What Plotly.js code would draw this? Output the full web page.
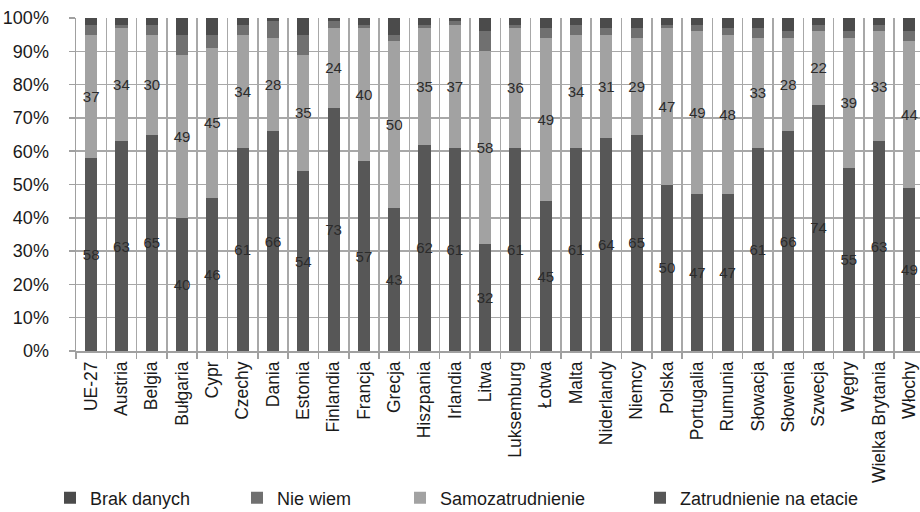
<!DOCTYPE html>
<html>
<head>
<meta charset="utf-8">
<script src="https://cdn.plot.ly/plotly-3.0.1.min.js"></script>
<style>html,body{margin:0;padding:0;background:#fff;}#chart{width:920px;height:512px;}</style>
</head>
<body>
<div id="chart"></div>
<script>
var categories = ["UE-27","Austria","Belgia","Bułgaria","Cypr","Czechy","Dania","Estonia","Finlandia","Francja","Grecja","Hiszpania","Irlandia","Litwa","Luksemburg","Łotwa","Malta","Niderlandy","Niemcy","Polska","Portugalia","Rumunia","Słowacja","Słowenia","Szwecja","Węgry","Wielka Brytania","Włochy"];
var zatrudnienie = [58,63,65,40,46,61,66,54,73,57,43,62,61,32,61,45,61,64,65,50,47,47,61,66,74,55,63,49];
var samozatrudnienie = [37,34,30,49,45,34,28,35,24,40,50,35,37,58,36,49,34,31,29,47,49,48,33,28,22,39,33,44];
var nieWiem = [3,1,3,6,4,3,5,6,2,1,2,1,1,6,1,3,3,2,3,1,2,2,3,2,2,2,2,3];
var brakDanych = [2,2,2,5,5,2,1,5,1,2,5,2,1,4,2,3,2,3,3,2,2,3,3,4,2,4,2,4];

var FONT = '"Liberation Sans", Arial, sans-serif';

function barTrace(name, vals, color, legendId, labels) {
  var t = {
    type: 'bar', name: name, x: categories, y: vals,
    marker: {color: color, line: {width: 0}},
    legend: legendId,
    hoverinfo: 'x+y+name'
  };
  if (labels) {
    t.text = vals.map(String);
    t.textposition = 'inside';
    t.insidetextanchor = 'middle';
    t.textangle = 0;
    t.constraintext = 'none';
    t.textfont = {family: FONT, size: 15, color: '#2b2b2b'};
    t.insidetextfont = {family: FONT, size: 15, color: '#2b2b2b'};
  } else {
    t.textposition = 'none';
  }
  return t;
}

var data = [
  barTrace('Zatrudnienie na etacie', zatrudnienie, '#575757', 'legend4', true),
  barTrace('Samozatrudnienie', samozatrudnienie, '#a2a2a2', 'legend3', true),
  barTrace('Nie wiem', nieWiem, '#707070', 'legend2', false),
  barTrace('Brak danych', brakDanych, '#4b4b4b', 'legend', false)
];

function leg(textStartPx) {
  return {
    orientation: 'h', x: (textStartPx - 40) / 920, xanchor: 'left',
    y: 1 - 498 / 512, yanchor: 'middle', xref: 'container', yref: 'container',
    font: {family: FONT, size: 18, color: '#1a1a1a'},
    bgcolor: 'rgba(0,0,0,0)', itemwidth: 30
  };
}

var layout = {
  width: 920, height: 512,
  margin: {l: 76, r: 0, t: 18, b: 161, pad: 0},
  paper_bgcolor: '#ffffff', plot_bgcolor: '#ffffff',
  barmode: 'stack', bargap: 0.6,
  font: {family: FONT, size: 18, color: '#1a1a1a'},
  xaxis: {
    type: 'category', range: [-0.5, 27.35],
    tickson: 'boundaries', ticks: 'outside', ticklen: 6, tickcolor: '#a0a0a0', tickwidth: 1.5,
    showgrid: true, gridcolor: '#a8a8a8', gridwidth: 1.5,
    showline: true, linecolor: '#a0a0a0', linewidth: 1.5,
    tickangle: -90, tickfont: {family: FONT, size: 17.5, color: '#1a1a1a'},
    ticklabelstandoff: 2,
    automargin: false, fixedrange: true
  },
  yaxis: {
    range: [0, 100], dtick: 10, tick0: 0, ticksuffix: '%',
    ticks: 'outside', ticklen: 6, tickcolor: '#a0a0a0', tickwidth: 1.5,
    showgrid: true, gridcolor: '#a8a8a8', gridwidth: 1.5,
    showline: true, linecolor: '#a0a0a0', linewidth: 1.5,
    zeroline: false,
    tickfont: {family: FONT, size: 18, color: '#1a1a1a'},
    ticklabelstandoff: 16,
    automargin: false, fixedrange: true
  },
  showlegend: true,
  legend: leg(90),
  legend2: leg(277),
  legend3: leg(440),
  legend4: leg(680)
};

Plotly.newPlot('chart', data, layout, {displayModeBar: false, staticPlot: true});
</script>
</body>
</html>
